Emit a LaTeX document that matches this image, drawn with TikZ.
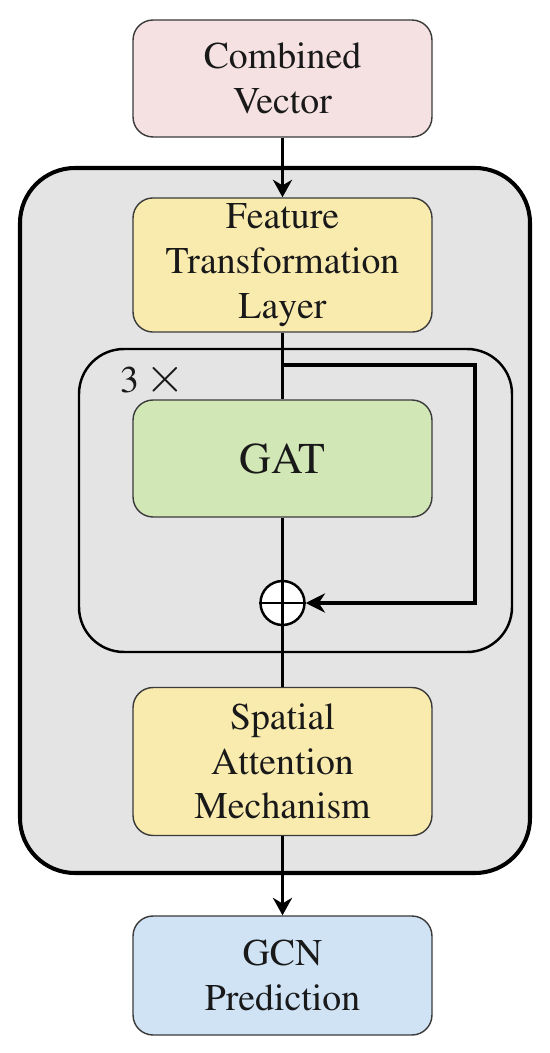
\documentclass[tikz,border=0pt]{standalone}
\usepackage[T1]{fontenc}
\usepackage{mathptmx}
\usetikzlibrary{arrows.meta}

\definecolor{boxpink}{HTML}{F5E1E1}
\definecolor{boxyellow}{HTML}{F9EBAE}
\definecolor{boxgreen}{HTML}{D2E7B6}
\definecolor{boxblue}{HTML}{CFE3F5}
\definecolor{framegray}{HTML}{E4E4E4}
\definecolor{edgegray}{HTML}{3A3A3A}

\tikzset{
  blockbox/.style={draw=edgegray, line width=0.8pt, rounded corners=0.4cm,
    minimum width=5.98cm, align=center, text=black!90,
    font=\fontsize{21.5}{25.5}\selectfont},
  link/.style={line width=1.3pt},
  flow/.style={-{Stealth[length=10pt,width=11pt]}, line width=1.3pt},
}

\begin{document}
\begin{tikzpicture}[x=0.02cm,y=-0.02cm]

\useasboundingbox [fill=white] (0,0) rectangle (550,1053);

% frames
\draw [fill=framegray,line width=2.3pt,rounded corners=1.1cm] (20,168) rectangle (530,873);
\draw [line width=1.4pt,rounded corners=0.9cm] (79,349) rectangle (512,652);

\node [blockbox,fill=boxpink,minimum height=2.34cm]  (comb-vec) at (282.5,78.5) {Combined\\Vector};
\node [blockbox,fill=boxyellow,minimum height=2.68cm] (feat-layer) at (282.5,265) {Feature\\Transformation\\Layer};
\draw [flow]   (comb-vec.south) -- (feat-layer.north);

\node [anchor=base west,font=\fontsize{21.5}{25.5}\selectfont,text=black!90] (rep-text) at (114,393) {3\,{\fontsize{29}{30}\selectfont$\times$}};
\node [blockbox,fill=boxgreen,minimum height=2.34cm,font=\fontsize{25}{30}\selectfont] (gat) at (282.5,458.5) {GAT};
\draw [link]   (feat-layer.south) -- (gat.north);

\node [circle,draw,fill=white,line width=1.4pt,minimum size=0.88cm,inner sep=0pt] (sum) at (282.5,603) {};
\draw [link]   (gat.south) -- (sum.north);
\draw [line width=1.4pt] (sum.north) -- (sum.south) (sum.west) -- (sum.east);

% residual
\coordinate (res-start) at (282.5,365);
\coordinate (res-right) at (475,365);
\coordinate (res-down) at (475,603);
\draw [-{Stealth[length=11pt,width=11pt]},line width=2.3pt]   (res-start) -- (res-right) -- (res-down) -- (sum.east);

\node [blockbox,fill=boxyellow,minimum height=2.96cm] (spat-att) at (282.5,761.5) {Spatial\\Attention\\Mechanism};
\draw [link]   (sum.south) -- (spat-att.north);

\node [blockbox,fill=boxblue,minimum height=2.38cm] (gcn-pred) at (282.5,975.5) {GCN\\Prediction};
\draw [flow]   (spat-att.south) -- (gcn-pred.north);

\end{tikzpicture}
\end{document}
